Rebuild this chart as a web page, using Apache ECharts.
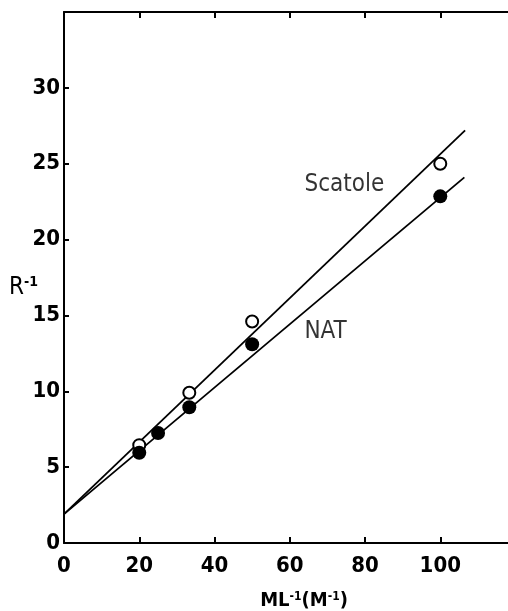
<!DOCTYPE html>
<html>
<head>
<meta charset="utf-8">
<script src="https://cdn.jsdelivr.net/npm/echarts@6/dist/echarts.min.js"></script>
<style>
html,body{margin:0;padding:0;background:#fff;}
#chart{width:508px;height:611px;}
</style>
</head>
<body>
<div id="chart"></div>
<script>
// ---- data ----
const xTickLabels = [0, 20, 40, 60, 80, 100];
const yTickLabels = [0, 5, 10, 15, 20, 25, 30];

const scatoleX = [20, 33.3, 50, 100];
const scatoleY = [6.45, 9.9, 14.6, 25.0];

const natX = [20, 25, 33.3, 50, 100];
const natY = [5.95, 7.25, 8.95, 13.1, 22.85];

const scatoleFitX = [0, 106.6];
const scatoleFitY = [1.9, 27.2];
const natFitX = [0, 106.4];
const natFitY = [1.9, 24.1];

const labelNames = ['Scatole', 'NAT'];
const labelX = [74.5, 69.5];
const labelY = [23.6, 13.9];

const FONT = "'DejaVu Sans Condensed', 'Liberation Sans Narrow', 'Liberation Sans', sans-serif";

const zip = (xs, ys) => xs.map((x, i) => [x, ys[i]]);

const chart = echarts.init(document.getElementById('chart'), null, {renderer: 'canvas'});

const axisLine = {show: true, lineStyle: {color: '#000', width: 2}};

chart.setOption({
  animation: false,
  backgroundColor: '#fff',
  grid: {left: 64, right: 0, top: 12, bottom: 68, containLabel: false, outerBoundsMode: 'none'},
  xAxis: [{
    type: 'value', position: 'bottom', min: 0, max: 118, interval: 20,
    axisLine: axisLine,
    axisTick: {show: true, inside: true, length: 6, lineStyle: {color: '#000', width: 2}, customValues: [20, 40, 60, 80, 100]},
    axisLabel: {show: true, customValues: xTickLabels, margin: 12, color: '#000', fontSize: 22, fontWeight: 'bold', fontFamily: FONT},
    splitLine: {show: false},
    name: 'ML{sup|-1}(M{sup|-1})',
    nameLocation: 'middle', nameGap: 48, nameMoveOverlap: false,
    nameTextStyle: {
      color: '#000', fontSize: 20, fontWeight: 'bold', fontFamily: FONT, padding: [0, 0, 0, 36],
      rich: {sup: {fontSize: 12, fontWeight: 'bold', fontFamily: FONT, color: '#000', padding: [0, 0, 8, 0]}}
    }
  }, {
    type: 'value', position: 'top', min: 0, max: 118, interval: 20,
    axisLine: axisLine,
    axisTick: {show: true, inside: true, length: 6, lineStyle: {color: '#000', width: 2}, customValues: [20, 40, 60, 80, 100]},
    axisLabel: {show: false},
    splitLine: {show: false}
  }],
  yAxis: [{
    type: 'value', min: 0, max: 35, interval: 5,
    axisLine: axisLine,
    axisTick: {show: true, inside: true, length: 5, lineStyle: {color: '#000', width: 2}, customValues: [5, 10, 15, 20, 25, 30]},
    axisLabel: {show: true, customValues: yTickLabels, margin: 4, color: '#000', fontSize: 22, fontWeight: 'bold', fontFamily: FONT},
    splitLine: {show: false},
    name: 'R{sup|-1}',
    nameLocation: 'middle', nameRotate: 0, nameGap: 26, nameMoveOverlap: false,
    nameTextStyle: {
      color: '#000', fontSize: 24, fontFamily: FONT, padding: [20, 0, 0, 0],
      rich: {sup: {fontSize: 14, fontWeight: 'bold', fontFamily: FONT, color: '#000', padding: [0, 0, 10, 0]}}
    }
  }],
  series: [
    {
      name: 'Scatole fit', type: 'line', data: zip(scatoleFitX, scatoleFitY),
      symbol: 'none', silent: true, lineStyle: {color: '#000', width: 1.8}, z: 2
    },
    {
      name: 'NAT fit', type: 'line', data: zip(natFitX, natFitY),
      symbol: 'none', silent: true, lineStyle: {color: '#000', width: 1.8}, z: 2
    },
    {
      name: 'Scatole', type: 'scatter', data: zip(scatoleX, scatoleY),
      symbol: 'circle', symbolSize: 12,
      itemStyle: {color: '#fff', borderColor: '#000', borderWidth: 2, opacity: 1}, z: 3
    },
    {
      name: 'NAT', type: 'scatter', data: zip(natX, natY),
      symbol: 'circle', symbolSize: 14,
      itemStyle: {color: '#000', opacity: 1}, z: 4
    },
    {
      name: 'labels', type: 'scatter', silent: true,
      data: labelNames.map((n, i) => ({name: n, value: [labelX[i], labelY[i]]})),
      symbolSize: 0,
      label: {show: true, position: 'inside', formatter: p => p.name, color: '#000', fontSize: 24, fontFamily: FONT},
      z: 5
    }
  ]
});
</script>
</body>
</html>
